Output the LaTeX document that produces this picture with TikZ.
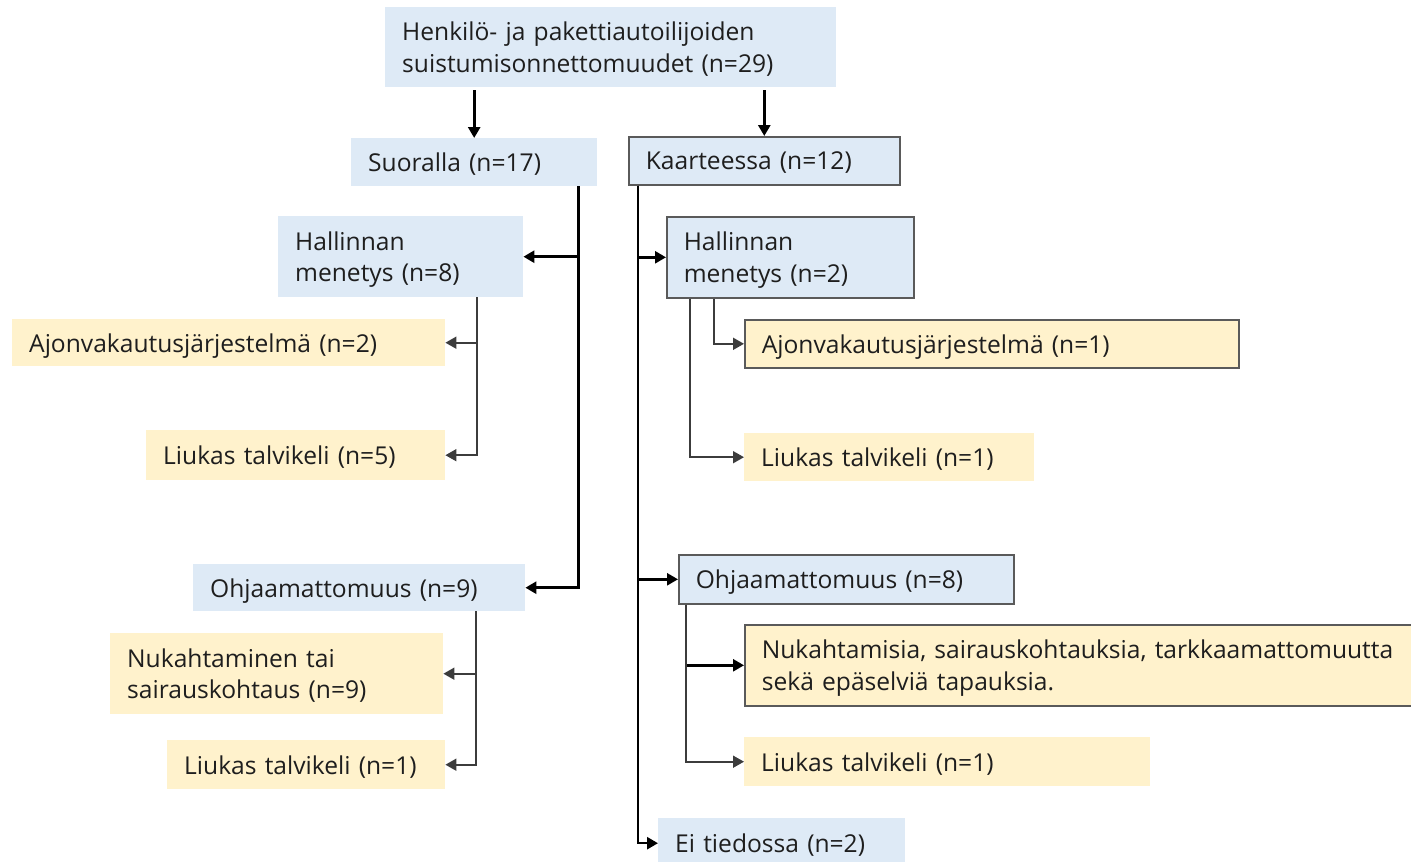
\documentclass[tikz,border=0pt]{standalone}
\usepackage{fontspec}
\setmainfont{Open Sans}
\usetikzlibrary{arrows.meta}
\definecolor{boxblue}{HTML}{DEEAF6}
\definecolor{boxyellow}{HTML}{FFF2CC}
\definecolor{edgegray}{HTML}{5A5A5A}
\definecolor{ink}{HTML}{1E1E1E}
\definecolor{thinline}{HTML}{3C3C3C}
\begin{document}
\begin{tikzpicture}[x=1pt,y=-1pt,
  base/.style={anchor=north west, inner xsep=17pt, inner ysep=0pt, align=left,
    text=ink, font=\fontsize{24.6}{31.5}\selectfont},
  oneline/.style={text depth=0pt},
  twolines/.style={text depth=31.5pt},
  catbox/.style={base, fill=boxblue},
  leafbox/.style={base, fill=boxyellow},
  framed/.style={draw=edgegray, line width=1.6pt},
  thickarrow/.style={line width=3pt, black, -{Triangle[length=11pt,width=12pt]}},
  thinarrow/.style={line width=1.7pt, thinline, -{Triangle[length=11pt,width=12pt]}}
]
\useasboundingbox (0,0) rectangle (1411,862);

% top level
\node[catbox, twolines, minimum width=451pt, minimum height=80pt, text width=417pt] (top) at (385,7)
  {Henkilö- ja pakettiautoilijoiden\\suistumisonnettomuudet (n=29)};
\node[catbox, oneline, minimum width=246pt, minimum height=48pt, text width=212pt] (suor) at (351,138)
  {Suoralla (n=17)};
\node[catbox, oneline, framed, minimum width=271pt, minimum height=48pt, text width=237pt] (kaar) at (628,136)
  {Kaarteessa (n=12)};

% straight road branch
\node[catbox, twolines, minimum width=245pt, minimum height=81pt, text width=211pt] (hl) at (278,216)
  {Hallinnan\\menetys (n=8)};
\node[leafbox, oneline, minimum width=433pt, minimum height=47pt, text width=399pt] (ajl) at (12,319)
  {Ajonvakautusjärjestelmä (n=2)};
\node[leafbox, oneline, minimum width=299pt, minimum height=50pt, text width=265pt] (lkl1) at (146,430)
  {Liukas talvikeli (n=5)};
\node[catbox, oneline, minimum width=332pt, minimum height=47pt, text width=298pt] (ol) at (193,564)
  {Ohjaamattomuus (n=9)};
\node[leafbox, twolines, minimum width=333pt, minimum height=81pt, text width=299pt] (nl) at (110,633)
  {Nukahtaminen tai\\sairauskohtaus (n=9)};
\node[leafbox, oneline, minimum width=278pt, minimum height=49pt, text width=244pt] (lkl2) at (167,740)
  {Liukas talvikeli (n=1)};

% curve branch
\node[catbox, twolines, framed, minimum width=247pt, minimum height=81pt, text width=213pt] (hr) at (666,216)
  {Hallinnan\\menetys (n=2)};
\node[leafbox, oneline, framed, minimum width=494pt, minimum height=48pt, text width=460pt] (ajr) at (744,319)
  {Ajonvakautusjärjestelmä (n=1)};
\node[leafbox, oneline, minimum width=290pt, minimum height=48pt, text width=256pt] (lkr1) at (744,433)
  {Liukas talvikeli (n=1)};
\node[catbox, oneline, framed, minimum width=335pt, minimum height=49pt, text width=301pt] (or) at (678,554)
  {Ohjaamattomuus (n=8)};
\node[leafbox, twolines, framed, minimum width=690pt, minimum height=81pt, text width=656pt] (nr) at (744,624)
  {Nukahtamisia, sairauskohtauksia, tarkkaamattomuutta\\sekä epäselviä tapauksia.};
\node[leafbox, oneline, minimum width=406pt, minimum height=49pt, text width=372pt] (lkr2) at (744,737)
  {Liukas talvikeli (n=1)};
\node[catbox, oneline, minimum width=247pt, minimum height=50pt, text width=213pt] (ei) at (658,818)
  {Ei tiedossa (n=2)};

% vertical guide positions of the connector trunks
\coordinate (lsp) at (578,0);
\coordinate (rsp) at (638,0);
\coordinate (hlx) at (477,0);
\coordinate (olx) at (476,0);
\coordinate (hra) at (714,0);
\coordinate (hrb) at (690,0);
\coordinate (orx) at (686,0);

% top-level arrows
\draw[thickarrow] ([yshift=-3pt]top.south -| suor.north) -- (suor.north);
\draw[thickarrow] ([yshift=-3pt]top.south -| kaar.north) -- (kaar.north);

% straight road trunk
\draw[thickarrow] (suor.south -| lsp) |- (hl.east);
\draw[thickarrow] (suor.south -| lsp) |- (ol.east);
\draw[thinarrow] (hl.south -| hlx) |- (ajl.east);
\draw[thinarrow] (hl.south -| hlx) |- (lkl1.east);
\draw[thinarrow] (ol.south -| olx) |- (nl.east);
\draw[thinarrow] (ol.south -| olx) |- (lkl2.east);

% curve trunk
\draw[thickarrow, line width=2.5pt] (kaar.south -| rsp) |- (hr.west);
\draw[thickarrow, line width=2.5pt] (kaar.south -| rsp) |- (or.west);
\draw[thickarrow, line width=2.5pt] (kaar.south -| rsp) |- (ei.west);
\draw[thinarrow] (hr.south -| hra) |- (ajr.west);
\draw[thinarrow] (hr.south -| hrb) |- (lkr1.west);
\draw[thickarrow, line width=2.5pt] (or.south -| orx) |- (nr.west);
\draw[thinarrow] (or.south -| orx) |- (lkr2.west);
\end{tikzpicture}
\end{document}
